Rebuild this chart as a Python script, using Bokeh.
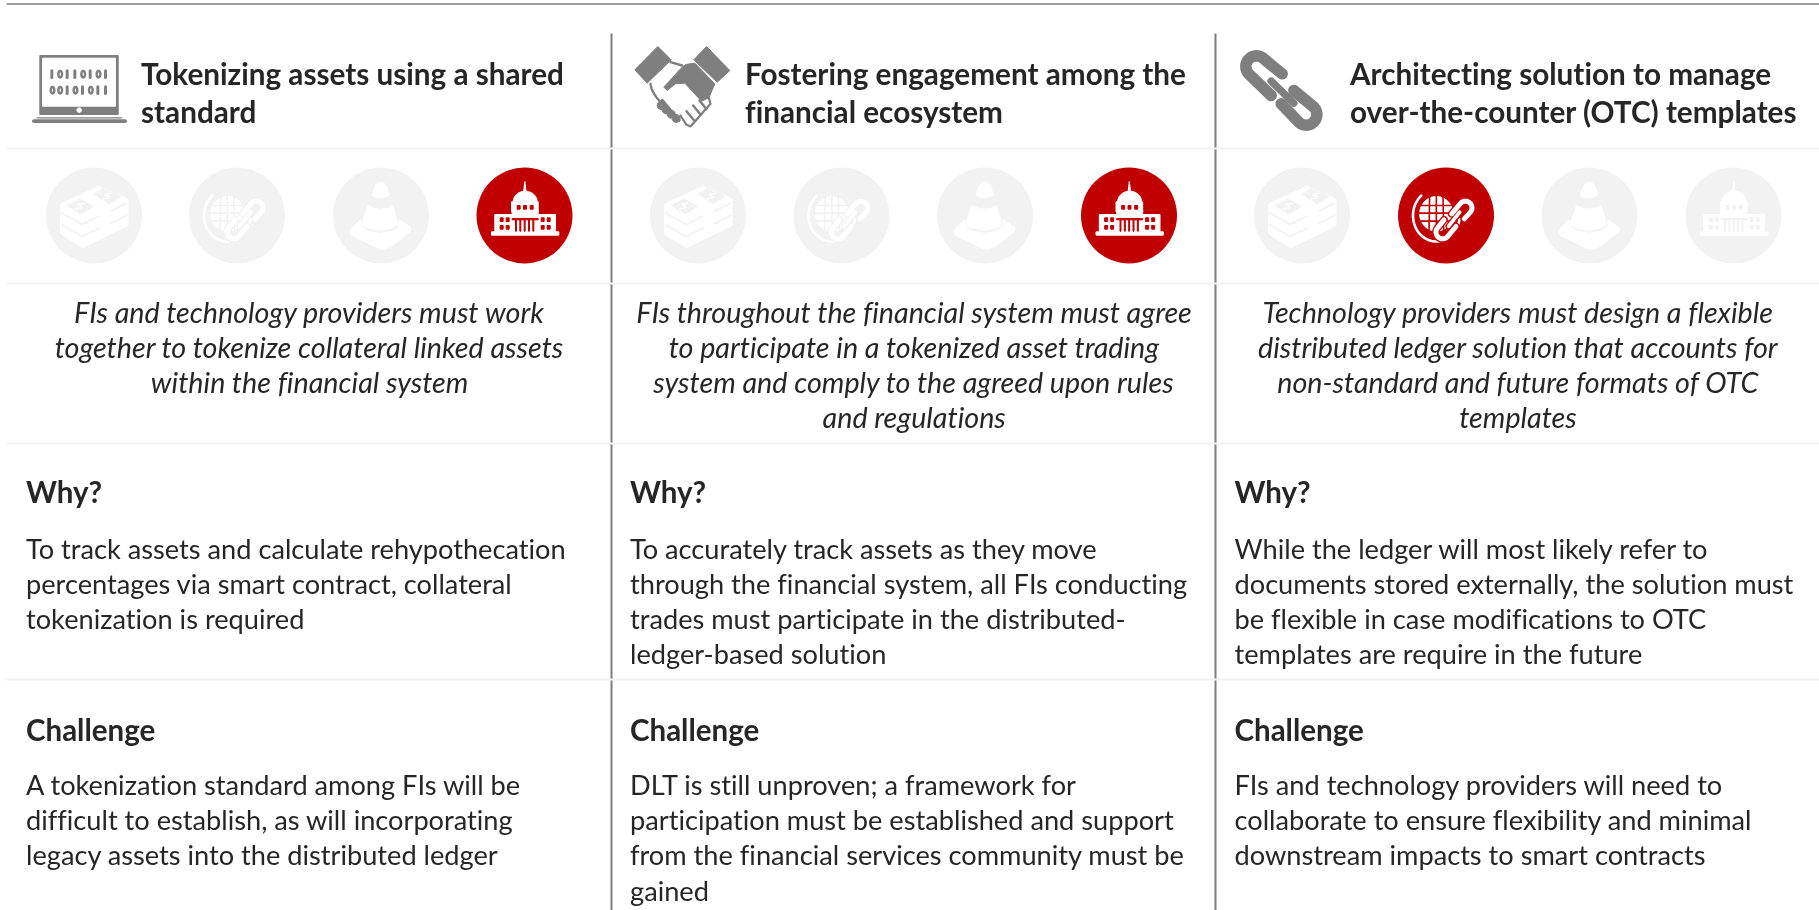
import numpy as np
from bokeh.plotting import figure
from bokeh.models import Range1d
from bokeh.core.properties import value
from bokeh.embed import file_html
from bokeh.resources import INLINE

# ---------- content ----------
titles = [
    ["Tokenizing assets using a shared", "standard"],
    ["Fostering engagement among the", "financial ecosystem"],
    ["Architecting solution to manage", "over-the-counter (OTC) templates"],
]
statements = [
    ["FIs and technology providers must work", "together to tokenize collateral linked assets", "within the financial system"],
    ["FIs throughout the financial system must agree", "to participate in a tokenized asset trading", "system and comply to the agreed upon rules", "and regulations"],
    ["Technology providers must design a flexible", "distributed ledger solution that accounts for", "non-standard and future formats of OTC", "templates"],
]
why_label = "Why?"
why_text = [
    ["To track assets and calculate rehypothecation", "percentages via smart contract, collateral", "tokenization is required"],
    ["To accurately track assets as they move", "through the financial system, all FIs conducting", "trades must participate in the distributed-", "ledger-based solution"],
    ["While the ledger will most likely refer to", "documents stored externally, the solution must", "be flexible in case modifications to OTC", "templates are require in the future"],
]
challenge_label = "Challenge"
challenge_text = [
    ["A tokenization standard among FIs will be", "difficult to establish, as will incorporating", "legacy assets into the distributed ledger"],
    ["DLT is still unproven; a framework for", "participation must be established and support", "from the financial services community must be", "gained"],
    ["FIs and technology providers will need to", "collaborate to ensure flexibility and minimal", "downstream impacts to smart contracts"],
]
active_icon = [3, 3, 1]
binary_rows = ["10110101", "00101011"]

# ---------- layout & style ----------
W, H = 1819, 910
GRAY, FAINT, RED, INK = "#7f7f7f", "#f2f2f2", "#c00000", "#262626"
FONT = value("Lato")
p = figure(width=W, height=H, x_range=Range1d(0, W), y_range=Range1d(H, 0),
           output_backend="svg", toolbar_location=None, min_border=0,
           outline_line_color=None,
           styles={"position": "fixed", "left": "0px", "top": "0px", "font-variant-ligatures": "none"})
p.xaxis.visible = False
p.yaxis.visible = False
p.grid.visible = False

title_x = [140.5, 744.5, 1349.5]
state_x = [309, 913.5, 1517.5]
body_x = [25.5, 629.5, 1234]
circle_x = [[93.5, 236.5, 380.5, 524], [697.5, 841, 984.5, 1128.5], [1301.5, 1445.5, 1589, 1733]]
circle_y = 215


def poly(pts, cx, cy, ox, oy, color):
    a = np.array(pts, float)
    p.patch((a[:, 0] - ox) / 3 + cx, (a[:, 1] - oy) / 3 + cy, fill_color=color, line_color=color, line_width=1, line_join="round")


def line(pts, cx, cy, ox, oy, color, w):
    a = np.array(pts, float)
    p.line((a[:, 0] - ox) / 3 + cx, (a[:, 1] - oy) / 3 + cy, line_color=color, line_width=w, line_cap="round", line_join="round")


def rect(x0, y0, x1, y1, cx, cy, ox, oy, color):
    poly([(x0, y0), (x1, y0), (x1, y1), (x0, y1)], cx, cy, ox, oy, color)


def money(cx, cy, fg, bg):
    ox, oy = 160, 165
    poly([(60, 130), (175, 78), (262, 115), (262, 195), (125, 262), (60, 220)], cx, cy, ox, oy, fg)
    for pts in ([(62, 157), (125, 192), (175, 167)], [(208, 152), (258, 128)],
                [(62, 192), (125, 228), (175, 203)], [(208, 190), (258, 165)]):
        line(pts, cx, cy, ox, oy, bg, 1.6)
    poly([(80, 135), (118, 115), (158, 138), (122, 160)], cx, cy, ox, oy, bg)
    poly([(160, 100), (188, 84), (240, 108), (205, 130)], cx, cy, ox, oy, bg)
    for dx, dy in ((118, 137), (200, 107)):
        line([(dx + 12, dy - 8), (dx - 6, dy - 6), (dx + 6, dy + 4), (dx - 12, dy + 8)], cx, cy, ox, oy, fg, 1.6)


def globe_chain(cx, cy, fg, bg):
    ox, oy = 167, 165
    t = np.radians(np.linspace(40, 262, 60))
    line(np.c_[138 - 70 * np.sin(t), 165 - 78 * np.cos(t)], cx, cy, ox, oy, fg, 2.6)
    t = np.linspace(0, 2 * np.pi, 50)
    poly(np.c_[138 + 50 * np.cos(t), 160 + 52 * np.sin(t)], cx, cy, ox, oy, fg)
    for yy in (135, 158, 182):
        line([(85, yy), (190, yy)], cx, cy, ox, oy, bg, 1.6)
    for xx in (118, 138, 158):
        line([(xx, 108), (xx + (xx - 138) * 0.1, 212)], cx, cy, ox, oy, bg, 1.6)
    ang_u = np.radians(np.linspace(223, 403, 20))
    upper = np.r_[[(184, 160)], np.c_[225 + 20 * np.cos(ang_u), 142 + 20 * np.sin(ang_u)], [(222, 175)]]
    ang_l = np.radians(np.linspace(43, 223, 20))
    lower = np.r_[[(197, 198)], np.c_[157 + 20 * np.cos(ang_l), 215 + 20 * np.sin(ang_l)], [(161, 178)]]
    bar = [(208, 155), (175, 197)]
    for path, w in ((upper, 5.0), (lower, 5.0), (bar, 3.8)):
        line(path, cx, cy, ox, oy, bg, w + 2.6)
    for path, w in ((upper, 5.0), (lower, 5.0), (bar, 3.8)):
        line(path, cx, cy, ox, oy, fg, w)


def cone(cx, cy, fg, bg):
    ox, oy = 167, 165
    poly([(140, 105), (148, 78), (156, 68), (166, 65), (176, 68), (184, 78), (192, 104), (180, 109), (166, 111), (152, 110)], cx, cy, ox, oy, fg)
    poly([(128, 135), (145, 143), (166, 146), (187, 143), (202, 135), (218, 192), (200, 203), (166, 209), (130, 203), (108, 192)], cx, cy, ox, oy, fg)
    poly([(78, 205), (106, 178), (106, 196), (130, 212), (166, 219), (200, 212), (222, 197), (222, 178), (256, 200), (256, 212), (198, 258), (178, 266), (160, 264), (78, 224), (74, 215)], cx, cy, ox, oy, fg)


def capitol(cx, cy, fg, bg):
    ox, oy = 163, 165
    poly([(164, 63), (160, 96), (168, 96)], cx, cy, ox, oy, fg)
    t = np.radians(np.linspace(180, 360, 30))
    poly(np.c_[165 + 36 * np.cos(t), 124 + 32 * np.sin(t)], cx, cy, ox, oy, fg)
    rect(124, 124, 204, 154, cx, cy, ox, oy, fg)
    rect(74, 162, 256, 214, cx, cy, ox, oy, fg)
    rect(64, 214, 266, 224, cx, cy, ox, oy, fg)
    poly([(122, 172), (165, 156), (206, 172)], cx, cy, ox, oy, fg)
    rect(126, 150, 204, 165, cx, cy, ox, oy, fg)
    for x0 in (141, 160, 180):
        rect(x0, 135, x0 + 9, 146, cx, cy, ox, oy, bg)
    for x0 in (90, 108, 213, 231):
        for y0 in (172, 195):
            rect(x0, y0, x0 + 9, y0 + 11, cx, cy, ox, oy, bg)
    rect(126, 174, 204, 178, cx, cy, ox, oy, bg)
    for x0 in (136, 149, 162, 175, 188):
        rect(x0, 178, x0 + 3, 212, cx, cy, ox, oy, bg)


icon_drawers = [money, globe_chain, cone, capitol]


def laptop(cx, cy):
    ox, oy = 0, 0
    c = (cx, cy, ox, oy, GRAY)
    rect(58, 45, 293, 222, *c)
    rect(66, 53, 285, 197, cx, cy, ox, oy, "white")
    t = np.linspace(0, 2 * np.pi, 24)
    poly(np.c_[176 + 7 * np.cos(t), 209 + 7 * np.sin(t)], cx, cy, ox, oy, "white")
    line([(50, 232), (303, 232)], cx, cy, ox, oy, GRAY, 1.4)
    line([(40, 242), (314, 242)], cx, cy, ox, oy, GRAY, 3.6)
    for r, row in enumerate(binary_rows):
        yy = 101 + r * 48
        for i, ch in enumerate(row):
            xx = 96 + i * 23
            if ch == "1":
                line([(xx - 2, yy - 10), (xx - 2, yy + 10)], cx, cy, ox, oy, GRAY, 3)
            else:
                tt = np.linspace(0, 2 * np.pi, 20)
                line(np.c_[xx + 5.5 * np.cos(tt), yy + 10 * np.sin(tt)], cx, cy, ox, oy, GRAY, 2.4)


def handshake(cx, cy):
    ox, oy = 0, 0
    c = (cx, cy, ox, oy, GRAY)
    poly([(28, 88), (97, 18), (137, 58), (65, 128)], *c)
    poly([(205, 58), (243, 18), (313, 90), (275, 125)], *c)
    poly([(115, 140), (165, 85), (180, 72), (208, 68), (268, 130), (250, 172), (228, 182), (178, 128), (150, 130), (125, 150)], *c)
    line([(135, 65), (170, 75)], cx, cy, ox, oy, GRAY, 2.4)
    t = np.linspace(0, 1, 12)
    line(np.c_[75 + 2 * np.sin(t * 3) + 30 * t ** 2, 130 + 55 * t], cx, cy, ox, oy, GRAY, 2.4)
    for xx, yy in ((107, 195), (122, 208), (137, 221), (152, 234)):
        tt = np.linspace(0, 2 * np.pi, 16)
        poly(np.c_[xx + 12 * np.cos(tt), yy + 12 * np.sin(tt)], *c)
    line([(110, 180), (160, 240)], cx, cy, ox, oy, GRAY, 3.5)
    line([(250, 172), (255, 190), (195, 258), (182, 252), (165, 225)], cx, cy, ox, oy, GRAY, 2.2)
    line([(183, 212), (206, 240)], cx, cy, ox, oy, GRAY, 2.4)
    line([(203, 195), (225, 222)], cx, cy, ox, oy, GRAY, 2.4)
    line([(222, 180), (243, 206)], cx, cy, ox, oy, GRAY, 2.4)


def big_chain(cx, cy):
    ox, oy = 0, 0
    ang1 = np.radians(np.linspace(-45, -225, 24))
    arc1 = np.c_[93 + 32 * np.cos(ang1), 78 + 32 * np.sin(ang1)]
    line(np.r_[[(170, 100)], arc1, [(137, 165)]], cx, cy, ox, oy, GRAY, 11.5)
    ang2 = np.radians(np.linspace(-45, 135, 24))
    arc2 = np.c_[242 + 32 * np.cos(ang2), 222 + 32 * np.sin(ang2)]
    line(np.r_[[(205, 150)], arc2, [(167, 190)]], cx, cy, ox, oy, GRAY, 11.5)
    line([(137, 122), (205, 188)], cx, cy, ox, oy, GRAY, 7.5)


# ---------- rules ----------
p.line([6, W], [3.5, 3.5], line_color=GRAY, line_width=1.5)
for x in (611, 1215):
    p.line([x, x], [33, H], line_color=GRAY, line_width=2)
for y in (148, 283, 443, 679):
    p.line([6, W], [y, y], line_color=FAINT, line_width=2)

# ---------- header icons ----------
laptop(20, 40)
handshake(625, 40)
big_chain(1225, 40)

# ---------- criteria circles ----------
for col in range(3):
    for i, x in enumerate(circle_x[col]):
        on = active_icon[col] == i
        bg = RED if on else FAINT
        p.circle([x], [circle_y], radius=48, fill_color=bg, line_color=None)
        icon_drawers[i](x, circle_y, "white", bg)


# ---------- texts ----------
def put(xs, ys, txt, size, style="normal", align="left", color=INK):
    p.text(xs, ys, text=txt, text_font=FONT, text_font_size=value(f"{size}px"), text_font_style=style,
           text_align=align, text_baseline="middle", text_color=color)


for col in range(3):
    put([title_x[col]] * 2, [72.5, 110.5], titles[col], 29.7, "bold")
    n = len(statements[col])
    put([state_x[col]] * n, [311 + 35.2 * i for i in range(n)], statements[col], 28.7, "italic", "center")
    put([body_x[col]], [491], [why_label], 29.5, "bold")
    n = len(why_text[col])
    put([body_x[col]] * n, [547.5 + 35.2 * i for i in range(n)], why_text[col], 27.2)
    put([body_x[col]], [728.5], [challenge_label], 29.5, "bold")
    n = len(challenge_text[col])
    put([body_x[col]] * n, [784 + 35.2 * i for i in range(n)], challenge_text[col], 27.2)

open("out.html", "w").write(file_html(p, INLINE))
